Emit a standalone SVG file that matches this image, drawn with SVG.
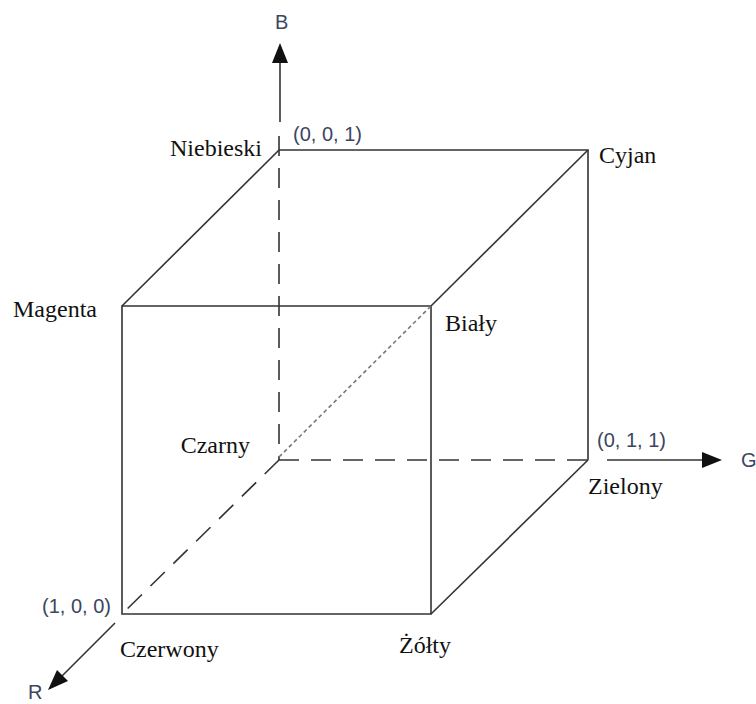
<svg xmlns="http://www.w3.org/2000/svg" width="756" height="704" viewBox="0 0 756 704">
<defs>
<style>
.edge{stroke:#333;stroke-width:1.6;fill:none}
.dash{stroke:#333;stroke-width:1.6;fill:none;stroke-dasharray:20 12}
.dot{stroke:#777;stroke-width:1.6;fill:none;stroke-dasharray:4 3}
.lbl{font-family:"Liberation Serif","Times New Roman",serif;font-size:24px;fill:#111}
.coord{font-family:"Liberation Sans",Arial,sans-serif;font-size:20px;fill:#3b4660}
.head{fill:#111}
</style>
</defs>
<rect width="756" height="704" fill="#fff"/>
<g id="connectors">
<path class="edge" d="M122 306 H431 V614 H122 Z"/>
<path class="edge" d="M279 150 H588 V460"/>
<line class="edge" x1="279" y1="150" x2="122" y2="306"/>
<line class="edge" x1="588" y1="150" x2="431" y2="306"/>
<line class="edge" x1="588" y1="460" x2="431" y2="614"/>
<line class="dash" x1="279" y1="136" x2="279" y2="460"/>
<line class="dash" x1="279" y1="460" x2="588" y2="460"/>
<line class="dash" x1="279" y1="460" x2="122" y2="614"/>
<line class="dot" x1="279" y1="457" x2="431" y2="306"/>
<line class="edge" x1="280" y1="122" x2="280" y2="60"/>
<polygon class="head" points="280,43 272,63 288,63"/>
<line class="edge" x1="607" y1="460" x2="704" y2="460"/>
<polygon class="head" points="722,460 702,452 702,468"/>
<line class="edge" x1="115" y1="623" x2="60" y2="678"/>
<polygon class="head" points="48,690 57,670 68,681"/>
</g>
<g id="axis-B"><text class="coord" x="275" y="29">B</text></g>
<g id="axis-G"><text class="coord" x="741" y="467">G</text></g>
<g id="axis-R"><text class="coord" x="28" y="699">R</text></g>
<g id="niebieski"><text class="lbl" x="262" y="156" text-anchor="end">Niebieski</text><text class="coord" x="293" y="141">(0, 0, 1)</text></g>
<g id="cyjan"><text class="lbl" x="599" y="163">Cyjan</text></g>
<g id="magenta"><text class="lbl" x="13" y="317">Magenta</text></g>
<g id="bialy"><text class="lbl" x="445" y="331">Biały</text></g>
<g id="czarny"><text class="lbl" x="250" y="453" text-anchor="end">Czarny</text></g>
<g id="zielony"><text class="coord" x="597" y="447">(0, 1, 1)</text><text class="lbl" x="588" y="494">Zielony</text></g>
<g id="czerwony"><text class="coord" x="42" y="613">(1, 0, 0)</text><text class="lbl" x="120" y="657">Czerwony</text></g>
<g id="zolty"><text class="lbl" x="399" y="653">Żółty</text></g>
</svg>
